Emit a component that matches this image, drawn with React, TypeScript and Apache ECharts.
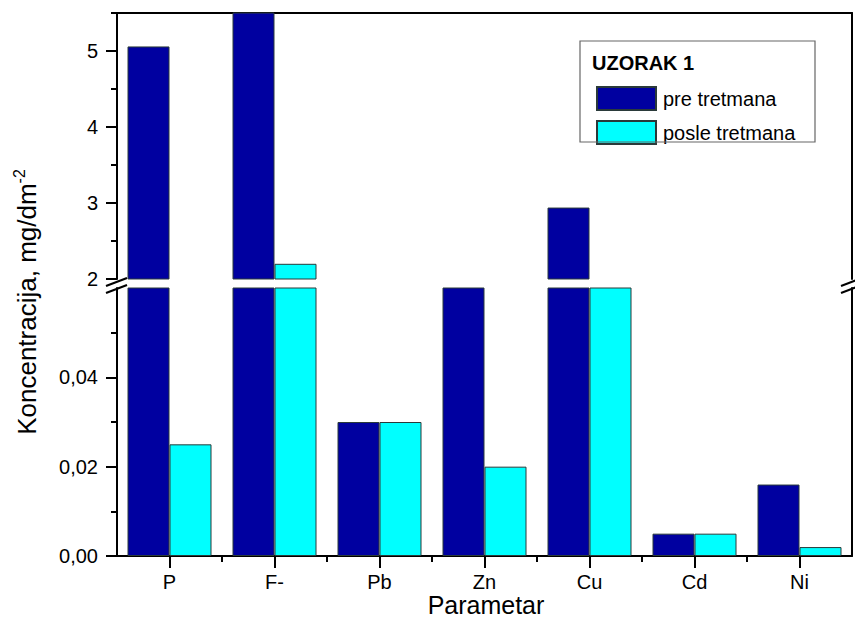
import React, { useEffect, useRef } from "react";
import * as echarts from "echarts";

// Concentrations per parameter, mg/dm^-2
const categories = ["P", "F-", "Pb", "Zn", "Cu", "Cd", "Ni"];
const preTretmana = [5.06, 6.0, 0.03, 0.3, 2.94, 0.005, 0.016];
const posleTretmana = [0.025, 2.2, 0.03, 0.02, 0.4, 0.005, 0.002];

// Broken value axis: upper segment and lower segment
const upperRange = [2, 5.5];
const upperMajor = [2, 3, 4, 5];
const upperMinor = [2.5, 3.5, 4.5, 5.5];
const lowerRange = [0, 0.06];
const lowerMajor = [0, 0.02, 0.04];
const lowerMinor = [0.01, 0.03, 0.05];

const seriesNames = ["pre tretmana", "posle tretmana"];
const legendTitle = "UZORAK 1";
const xTitle = "Parametar";

const FONT = "'Liberation Sans', Arial, sans-serif";
const DARK = "#0000a0";
const CYAN = "#00ffff";
const AXIS = "#000";

export default function App() {
  const ref = useRef<HTMLDivElement>(null);

  useEffect(() => {
    document.body.style.margin = "0";
    const chart = echarts.init(ref.current!, null, { renderer: "svg" });

    const lineStyle = { color: AXIS, width: 2 };
    const tickLine = { color: AXIS, width: 2 };
    const barStyle = (color: string) => ({
      color,
      borderColor: "#2a3a3a",
      borderWidth: 1,
    });

    // tick positions on the category band scale (0..n)
    const n = categories.length;
    const centerTicks = categories.map((_, i) => i + 0.5);
    const boundaryTicks = categories.slice(1).map((_, i) => i + 1);

    const valueAxisBase = (grid: number, range: number[]) => ({
      type: "value",
      gridIndex: grid,
      min: range[0],
      max: range[1],
      splitLine: { show: false },
    });

    const tickOnlyX = (values: number[], length: number) => ({
      type: "value",
      gridIndex: 1,
      min: 0,
      max: n,
      position: "bottom",
      splitLine: { show: false },
      axisLine: { show: false, onZero: false },
      axisLabel: { show: false },
      axisTick: { show: true, length, customValues: values, lineStyle: tickLine },
    });

    const option: any = {
      animation: false,
      backgroundColor: "#fff",
      grid: [
        { left: 117, right: 3, top: 13, height: 266, outerBoundsMode: "none" },
        { left: 117, right: 3, top: 288, height: 268, outerBoundsMode: "none" },
      ],
      xAxis: [
        {
          type: "category",
          gridIndex: 0,
          data: categories,
          position: "top",
          axisLine: { lineStyle },
          axisTick: { show: false },
          axisLabel: { show: false },
        },
        {
          type: "category",
          gridIndex: 1,
          data: categories,
          position: "bottom",
          axisLine: { lineStyle },
          axisTick: { show: false },
          axisLabel: {
            margin: 16,
            fontSize: 20,
            fontFamily: FONT,
            color: "#000",
          },
        },
        tickOnlyX(centerTicks, 12),
        tickOnlyX(boundaryTicks, 6),
      ],
      yAxis: [
        {
          ...valueAxisBase(0, upperRange),
          position: "left",
          axisLine: { show: true, lineStyle },
          axisTick: { show: true, length: 11, customValues: upperMajor, lineStyle: tickLine },
          axisLabel: {
            customValues: upperMajor,
            margin: 19,
            fontSize: 20,
            fontFamily: FONT,
            color: "#000",
            formatter: (v: number) => String(v),
          },
        },
        {
          ...valueAxisBase(0, upperRange),
          position: "left",
          axisLine: { show: false },
          axisTick: { show: true, length: 6, customValues: upperMinor, lineStyle: tickLine },
          axisLabel: { show: false },
        },
        {
          ...valueAxisBase(0, upperRange),
          position: "right",
          axisLine: { show: true, lineStyle },
          axisTick: { show: false },
          axisLabel: { show: false },
        },
        {
          ...valueAxisBase(1, lowerRange),
          position: "left",
          axisLine: { show: true, lineStyle, onZero: false },
          axisTick: { show: true, length: 11, customValues: lowerMajor, lineStyle: tickLine },
          axisLabel: {
            customValues: lowerMajor,
            margin: 19,
            fontSize: 20,
            fontFamily: FONT,
            color: "#000",
            formatter: (v: number) => v.toFixed(2).replace(".", ","),
          },
        },
        {
          ...valueAxisBase(1, lowerRange),
          position: "left",
          axisLine: { show: false, onZero: false },
          axisTick: { show: true, length: 6, customValues: lowerMinor, lineStyle: tickLine },
          axisLabel: { show: false },
        },
        {
          ...valueAxisBase(1, lowerRange),
          position: "right",
          axisLine: { show: true, lineStyle, onZero: false },
          axisTick: { show: false },
          axisLabel: { show: false },
        },
      ],
      legend: {
        orient: "vertical",
        left: 591,
        top: 81,
        itemWidth: 59,
        itemHeight: 23,
        itemGap: 9,
        icon: "rect",
        data: seriesNames,
        textStyle: {
          fontSize: 20,
          fontFamily: FONT,
          color: "#000",
          padding: [0, 0, 0, 2],
        },
        selectedMode: false,
      },
      series: [
        {
          name: seriesNames[0],
          type: "bar",
          xAxisIndex: 0,
          yAxisIndex: 0,
          data: preTretmana,
          barGap: "0%",
          barCategoryGap: "20%",
          clip: true,
          itemStyle: barStyle(DARK),
        },
        {
          name: seriesNames[1],
          type: "bar",
          xAxisIndex: 0,
          yAxisIndex: 0,
          data: posleTretmana,
          barGap: "0%",
          barCategoryGap: "20%",
          clip: true,
          itemStyle: barStyle(CYAN),
        },
        {
          name: seriesNames[0],
          type: "bar",
          xAxisIndex: 1,
          yAxisIndex: 3,
          data: preTretmana,
          barGap: "0%",
          barCategoryGap: "20%",
          clip: true,
          itemStyle: barStyle(DARK),
        },
        {
          name: seriesNames[1],
          type: "bar",
          xAxisIndex: 1,
          yAxisIndex: 3,
          data: posleTretmana,
          barGap: "0%",
          barCategoryGap: "20%",
          clip: true,
          itemStyle: barStyle(CYAN),
        },
      ],
      graphic: [
        // break marks on the left and right axis
        { type: "line", shape: { x1: 106, y1: 286, x2: 127, y2: 278 }, style: { stroke: "#000", lineWidth: 2 }, z: 100 },
        { type: "line", shape: { x1: 106, y1: 293, x2: 127, y2: 285 }, style: { stroke: "#000", lineWidth: 2 }, z: 100 },
        { type: "line", shape: { x1: 841, y1: 286, x2: 862, y2: 278 }, style: { stroke: "#000", lineWidth: 2 }, z: 100 },
        { type: "line", shape: { x1: 841, y1: 293, x2: 862, y2: 285 }, style: { stroke: "#000", lineWidth: 2 }, z: 100 },
        // legend frame and heading
        {
          type: "rect",
          shape: { x: 580, y: 41, width: 235, height: 101 },
          style: { fill: "none", stroke: "#666", lineWidth: 1.2 },
          z: 50,
        },
        {
          type: "text",
          x: 592,
          y: 63,
          style: {
            text: legendTitle,
            fontSize: 20,
            fontWeight: "bold",
            fontFamily: FONT,
            fill: "#000",
            textVerticalAlign: "middle",
          },
          z: 50,
        },
        // axis titles
        {
          type: "text",
          x: 486,
          y: 605,
          style: {
            text: xTitle,
            fontSize: 25,
            fontFamily: FONT,
            fill: "#000",
            textAlign: "center",
            textVerticalAlign: "middle",
          },
        },
        {
          type: "text",
          x: 27,
          y: 302,
          rotation: Math.PI / 2,
          style: {
            text: "{b|Koncentracija, mg/dm}{s|-2}",
            textAlign: "center",
            textVerticalAlign: "middle",
            rich: {
              b: { fontSize: 26, fontFamily: FONT, fill: "#000", lineHeight: 32 },
              s: { fontSize: 16, fontFamily: FONT, fill: "#000", lineHeight: 14, verticalAlign: "top" },
            },
          },
        },
      ],
    };

    chart.setOption(option);
    return () => chart.dispose();
  }, []);

  return <div ref={ref} style={{ width: 855, height: 635 }} />;
}
